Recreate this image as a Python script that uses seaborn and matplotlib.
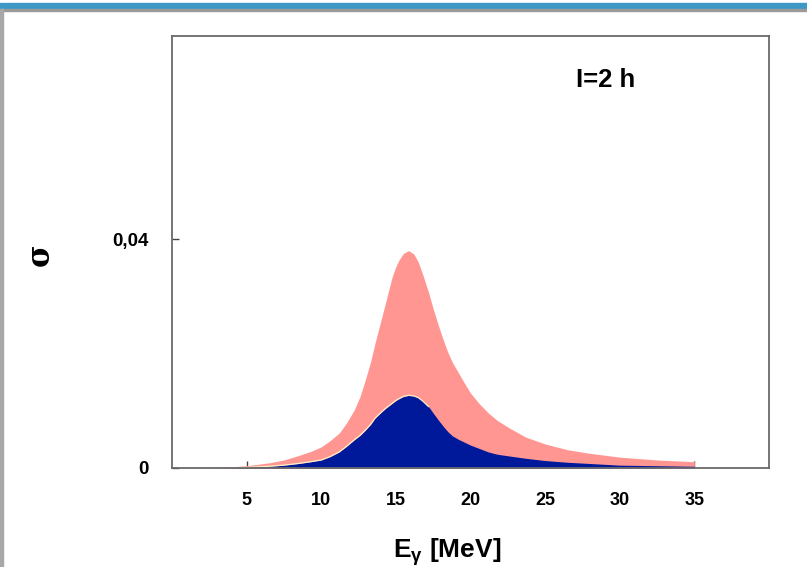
import matplotlib
matplotlib.use("Agg")
import matplotlib.pyplot as plt
import seaborn as sns
import pandas as pd
from matplotlib.patches import Rectangle

# Photon energy grid [MeV] and cross sections
energy = [2.5, 3.5, 5, 6.5, 7.5, 8.5, 9.3, 10, 10.6, 11.2, 11.7, 12.2, 12.6, 12.95,
          13.3, 13.6, 14.0, 14.3, 14.75, 15.0, 15.2, 15.5, 15.85, 16.2, 16.5, 16.8,
          17.2, 17.5, 17.9, 18.2, 18.5, 18.8, 19.2, 19.6, 20, 20.6, 21.2, 21.8,
          22.6, 23.7, 25, 26.5, 27.9, 30, 32.5, 35]
sigma_total = [0, 0.0001, 0.0004, 0.0009, 0.0014, 0.0022, 0.0029, 0.0037, 0.0048,
               0.0061, 0.0079, 0.0101, 0.0125, 0.0154, 0.0185, 0.0218, 0.0258,
               0.0288, 0.0334, 0.0352, 0.0363, 0.0375, 0.0380, 0.0374, 0.0360,
               0.0338, 0.0306, 0.0278, 0.0245, 0.0222, 0.0201, 0.0184, 0.0166,
               0.0148, 0.0131, 0.0112, 0.0096, 0.0083, 0.0070, 0.0054, 0.0042,
               0.0032, 0.0026, 0.0019, 0.0014, 0.0011]
sigma_part = [0, 0, 0.0001, 0.0003, 0.0005, 0.0008, 0.0011, 0.0014, 0.0020, 0.0028,
              0.0038, 0.0049, 0.0057, 0.0066, 0.0076, 0.0087, 0.0097, 0.0104,
              0.0113, 0.0118, 0.0121, 0.0125, 0.0127, 0.0126, 0.0123, 0.0117,
              0.0107, 0.0096, 0.0082, 0.0072, 0.0063, 0.0056, 0.0050, 0.0045,
              0.0040, 0.0034, 0.0028, 0.0024, 0.0021, 0.0017, 0.0013, 0.0010,
              0.0008, 0.0005, 0.0004, 0.0003]

x_ticks = [5, 10, 15, 20, 25, 30, 35]
y_ticks = [0, 0.04]
y_ticklabels = ["0", "0,04"]
annotation = "I=2 h"

df = pd.DataFrame({"E": energy, "total": sigma_total, "part": sigma_part})

sns.set_theme(style="ticks")
plt.rcParams["font.family"] = ["Liberation Sans", "DejaVu Sans"]
plt.rcParams["text.color"] = "black"
plt.rcParams["axes.labelcolor"] = "black"
plt.rcParams["xtick.labelcolor"] = "black"
plt.rcParams["ytick.labelcolor"] = "black"

fig = plt.figure(figsize=(8.07, 5.67), dpi=100)
ax = fig.add_axes([172 / 807, 1 - 468 / 567, (769 - 172) / 807, (468 - 36) / 567])

ax.fill_between(df["E"], 0, df["total"], color="#FF9692", linewidth=0, zorder=2)
ax.fill_between(df["E"], 0, df["part"], color="#00199B", linewidth=0, zorder=3)
rise = df[df["E"] <= 17.2]
sns.lineplot(data=rise, x="E", y="part", ax=ax, color="#FFF0C4",
             linewidth=0.9, zorder=4, legend=False)

ax.set_xlim(0, 40)
ax.set_ylim(0, 0.0755)
ax.set_xticks(x_ticks)
ax.set_xticklabels([str(t) for t in x_ticks], fontweight="bold", fontsize=13)
ax.set_yticks(y_ticks)
ax.set_yticklabels(y_ticklabels, fontweight="bold", fontsize=13.5)
ax.tick_params(axis="x", direction="in", length=5, width=1, color="#444444", pad=17)
ax.tick_params(axis="y", direction="in", length=5, width=1, color="#444444", pad=17)

for side in ["left", "right", "top", "bottom"]:
    ax.spines[side].set_color("#6a6a6a")
    ax.spines[side].set_linewidth(1.3)
    ax.spines[side].set_zorder(5)

ax.set_xlabel(r"E$_{\mathregular{\gamma}}$ [MeV]", fontsize=19, fontweight="bold")
ax.xaxis.set_label_coords(275 / 597, -68 / 432)
ax.set_ylabel("σ", fontsize=22, fontweight="bold",
              family=["DejaVu Serif", "DejaVu Sans"])
ax.yaxis.set_label_coords(-116 / 597, 213 / 432)
ax.text(27.1, 0.0678, annotation, fontsize=18.5, fontweight="bold",
        ha="left", va="center")

# window frame around the figure
fig.patches.append(Rectangle((0, 1 - 9 / 567), 1, 6 / 567, transform=fig.transFigure,
                             color="#3D98C6", zorder=10))
fig.patches.append(Rectangle((0, 1 - 11 / 567), 1, 2 / 567, transform=fig.transFigure,
                             color="#9a9a9a", zorder=10))
fig.patches.append(Rectangle((0, 0), 2.5 / 807, 1 - 9 / 567, transform=fig.transFigure,
                             color="#a8a8a8", zorder=10))

fig.savefig("out.png", dpi=100)
